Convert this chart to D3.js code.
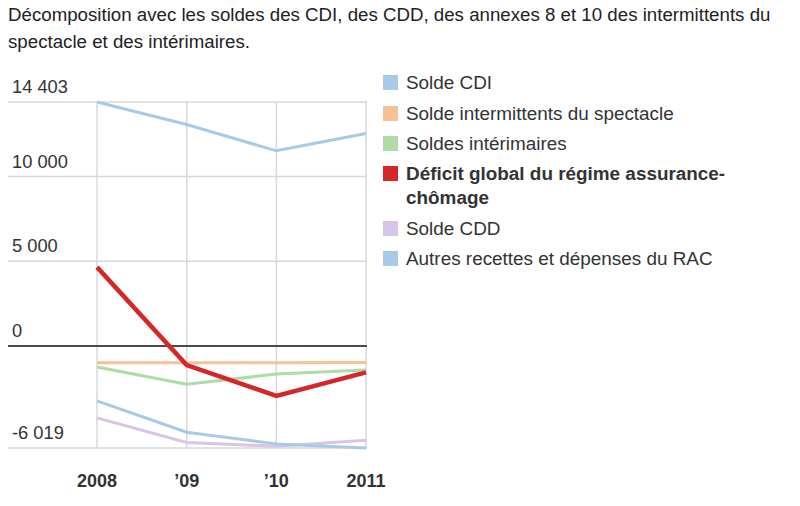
<!DOCTYPE html>
<html><head><meta charset="utf-8">
<script src="https://cdn.jsdelivr.net/npm/d3@7"></script>
<style>body{margin:0;background:#fff;font-family:"Liberation Sans",Arial,Helvetica,sans-serif;}</style>
</head><body><svg id="c" width="800" height="506"></svg>
<script>
const years = ["2008", "’09", "’10", "2011"];
const yTicks = [-6019, 0, 5000, 10000, 14403];
const seriesNames = ["Solde CDI", "Solde intermittents du spectacle", "Soldes intérimaires", "Déficit global du régime assurance-chômage", "Solde CDD", "Autres recettes et dépenses du RAC"];
const soldeCDI = [14403, 13077, 11521, 12544];
const soldeIntermittents = [-988, -990, -985, -966];
const soldesInterimaires = [-1243, -2249, -1657, -1420];
const deficitGlobal = [4657, -1124, -2940, -1556];
const soldeCDD = [-4240, -5698, -5917, -5562];
const autresRAC = [-3235, -5089, -5779, -6019];
const colors = ["#a8cae6", "#f5c296", "#aedba6", "#d62728", "#d7c5e6", "#a8cae6"];

const svg = d3.select("#c");
const fmt = v => d3.format(",")(v).replace(/,/g, " ").replace("−", "-");

// Title
const title = svg.append("text").attr("font-size", 18.7).attr("fill", "#222");
title.append("tspan").attr("x", 8).attr("y", 21).text("Décomposition avec les soldes des CDI, des CDD, des annexes 8 et 10 des intermittents du");
title.append("tspan").attr("x", 8).attr("y", 48).text("spectacle et des intérimaires.");

const x = d3.scalePoint().domain(years).range([97, 366]);
const y = d3.scaleLinear().domain([-6019, 14403]).range([448, 102]);

// vertical grid
svg.append("g").selectAll("line").data(years).join("line")
  .attr("x1", d => x(d)).attr("x2", d => x(d)).attr("y1", y(14403)).attr("y2", y(-6019))
  .attr("stroke", "#d9d9d9").attr("stroke-width", 1.5);
// horizontal grid
svg.append("g").selectAll("line").data(yTicks).join("line")
  .attr("x1", 8).attr("x2", 367).attr("y1", d => y(d)).attr("y2", d => y(d))
  .attr("stroke", d => d === 0 ? "#4a4a4a" : "#d9d9d9").attr("stroke-width", d => d === 0 ? 2 : 1.5);
// y labels
svg.append("g").selectAll("text").data(yTicks).join("text")
  .attr("x", 12).attr("y", d => y(d) - 9).attr("font-size", 18.3).attr("fill", "#333").text(d => fmt(d));
// x labels
svg.append("g").selectAll("text").data(years).join("text")
  .attr("x", d => x(d)).attr("y", 487).attr("text-anchor", "middle").attr("font-size", 18)
  .attr("font-weight", "bold").attr("fill", "#333").text(d => d);

const all = [soldeCDI, soldeIntermittents, soldesInterimaires, deficitGlobal, soldeCDD, autresRAC];
const line = d3.line().x((d, i) => x(years[i])).y(d => y(d));
const order = [0, 1, 2, 4, 5, 3];
svg.append("g").selectAll("path").data(order).join("path")
  .attr("d", i => line(all[i])).attr("fill", "none").attr("stroke", i => colors[i])
  .attr("stroke-width", i => i === 3 ? 4.5 : 3).attr("stroke-linejoin", "miter");

// legend
const legTops = [75, 106, 136, 166, 221, 251];
const lg = svg.append("g");
seriesNames.forEach((n, i) => {
  lg.append("rect").attr("x", 383).attr("y", legTops[i]).attr("width", 15).attr("height", 15).attr("fill", colors[i]);
  const t = lg.append("text").attr("x", 406).attr("font-size", 18.9).attr("fill", "#333")
    .attr("font-weight", i === 3 ? "bold" : "normal");
  if (i === 3) {
    t.append("tspan").attr("x", 406).attr("y", legTops[i] + 14).text("Déficit global du régime assurance-");
    t.append("tspan").attr("x", 406).attr("y", legTops[i] + 38).text("chômage");
  } else {
    t.attr("y", legTops[i] + 14).text(n);
  }
});
</script></body></html>
